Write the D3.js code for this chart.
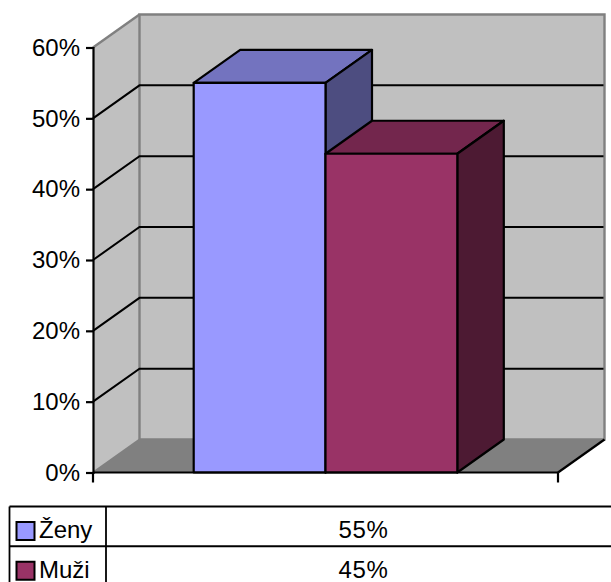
<!DOCTYPE html>
<html>
<head>
<meta charset="utf-8">
<script src="https://cdn.jsdelivr.net/npm/d3@7"></script>
<style>
  body { margin: 0; background: #fff; }
  svg { display: block; }
  text { font-family: "Liberation Sans", Arial, sans-serif; fill: #000; }
</style>
</head>
<body>
<div class="canvas"></div>
<script>
// data
const categories = ['Ženy', 'Muži'];
const values = [55, 45];
const valueLabels = ['55%', '45%'];
const yTicks = [0, 10, 20, 30, 40, 50, 60];

// colours per series: front, top, side
const frontColours = ['#9999ff', '#7373bf', '#4d4d80'];
const secondColours = ['#993366', '#73264d', '#4d1a33'];
const colours = [frontColours, secondColours];

const dims = { width: 611, height: 582 };
// the 3d box: depth offset from front plane to back wall
const depth = { x: 46.5, y: -33 };

const svg = d3.select('.canvas')
  .append('svg')
  .attr('width', dims.width)
  .attr('height', dims.height);

const y = d3.scaleLinear().domain([0, 60]).range([472.5, 47.5]);
const x = d3.scaleBand().domain(categories).range([93, 558])
  .paddingInner(0).paddingOuter(0.764);

const x0 = x.range()[0], x1 = x.range()[1];
const line = d3.line();
const back = (px, py) => [px + depth.x, py + depth.y];

// left wall and back wall
svg.append('path')
  .attr('d', line([[x0, y(0)], back(x0, y(0)), back(x0, y(60)), [x0, y(60)]]) + 'Z')
  .attr('fill', '#c0c0c0');
svg.append('path')
  .attr('d', line([back(x0, y(0)), back(x1, y(0)), back(x1, y(60)), back(x0, y(60))]) + 'Z')
  .attr('fill', '#c0c0c0')
  .attr('stroke', '#808080')
  .attr('stroke-width', 2.4);
// floor
svg.append('path')
  .attr('d', line([[x0, y(0)], [x1, y(0)], back(x1, y(0)), back(x0, y(0))]) + 'Z')
  .attr('fill', '#808080');
// wall edges in grey
svg.append('path')
  .attr('d', line([[x0, y(60)], back(x0, y(60))]))
  .attr('stroke', '#808080').attr('stroke-width', 2.4).attr('fill', 'none');
svg.append('path')
  .attr('d', line([[x0, y(0)], back(x0, y(0))]))
  .attr('stroke', '#808080').attr('stroke-width', 2).attr('fill', 'none');
// floor front to back on the right is black
svg.append('path')
  .attr('d', line([[x1, y(0)], back(x1, y(0))]))
  .attr('stroke', '#000').attr('stroke-width', 2.2).attr('fill', 'none');

// gridlines
svg.append('g').selectAll('path')
  .data(yTicks.filter(d => d > 0 && d < 60))
  .enter().append('path')
  .attr('d', d => line([[x0, y(d)], back(x0, y(d)), back(x1 - 1, y(d))]))
  .attr('fill', 'none')
  .attr('stroke', '#000')
  .attr('stroke-width', 2);

// bars, drawn left to right
const bars = svg.append('g').selectAll('g')
  .data(categories.map((c, i) => ({ name: c, value: values[i], colour: colours[i] })))
  .enter().append('g')
  .attr('stroke', '#000')
  .attr('stroke-width', 2.2)
  .attr('stroke-linejoin', 'round');

bars.append('path')
  .attr('d', d => {
    const l = x(d.name), r = l + x.bandwidth(), t = y(d.value);
    return line([[l, t], [r, t], back(r, t), back(l, t)]) + 'Z';
  })
  .attr('fill', d => d.colour[1]);
bars.append('path')
  .attr('d', d => {
    const r = x(d.name) + x.bandwidth(), t = y(d.value);
    return line([[r, t], back(r, t), back(r, y(0)), [r, y(0)]]) + 'Z';
  })
  .attr('fill', d => d.colour[2]);
bars.append('rect')
  .attr('x', d => x(d.name))
  .attr('y', d => y(d.value))
  .attr('width', x.bandwidth())
  .attr('height', d => y(0) - y(d.value))
  .attr('fill', d => d.colour[0]);

// y axis
const axis = svg.append('g')
  .attr('transform', `translate(${x0},0)`)
  .call(d3.axisLeft(y).tickValues(yTicks).tickSize(7).tickFormat(d => d + '%'));
axis.selectAll('line').attr('stroke', '#000').attr('stroke-width', 2.2);
axis.select('.domain').attr('stroke', '#000').attr('stroke-width', 2.2);
axis.attr('font-family', null);
axis.selectAll('text')
  .attr('font-size', 24)
  .attr('x', -13)
  .attr('dy', '0.32em');

// x axis
svg.append('path')
  .attr('d', line([[x0, y(0)], [x1, y(0)]]))
  .attr('stroke', '#000').attr('stroke-width', 2.2);
svg.append('g').selectAll('line')
  .data(x.range())
  .enter().append('line')
  .attr('x1', d => d).attr('x2', d => d)
  .attr('y1', y(0)).attr('y2', y(0) + 10)
  .attr('stroke', '#000').attr('stroke-width', 2.2);

// data table under the chart, runs off the right side
const rowTop = d3.scaleBand().domain(categories).range([506.5, 586]);
const table = svg.append('g');
table.selectAll('line.h')
  .data([...categories, null])
  .enter().append('line')
  .attr('x1', 9.5).attr('x2', dims.width)
  .attr('y1', d => d ? rowTop(d) : 586)
  .attr('y2', d => d ? rowTop(d) : 586)
  .attr('stroke', '#000').attr('stroke-width', 1.8);
table.selectAll('line.v')
  .data([9.5, 106])
  .enter().append('line')
  .attr('x1', d => d).attr('x2', d => d)
  .attr('y1', 506.5).attr('y2', 586)
  .attr('stroke', '#000').attr('stroke-width', 1.8);

const rows = table.selectAll('g')
  .data(categories.map((c, i) => ({ name: c, label: valueLabels[i], colour: colours[i][0] })))
  .enter().append('g')
  .attr('transform', d => `translate(0,${rowTop(d.name)})`);
rows.append('rect')
  .attr('x', 16.5).attr('y', 15.5)
  .attr('width', 18).attr('height', 18)
  .attr('fill', d => d.colour)
  .attr('stroke', '#000').attr('stroke-width', 2);
rows.append('text')
  .attr('x', 39).attr('y', 31.5)
  .attr('font-size', 24)
  .text(d => d.name);
rows.append('text')
  .attr('x', 363.5).attr('y', 31.5)
  .attr('text-anchor', 'middle')
  .attr('font-size', 24)
  .attr('letter-spacing', 0.6)
  .text(d => d.label);
</script>
</body>
</html>
